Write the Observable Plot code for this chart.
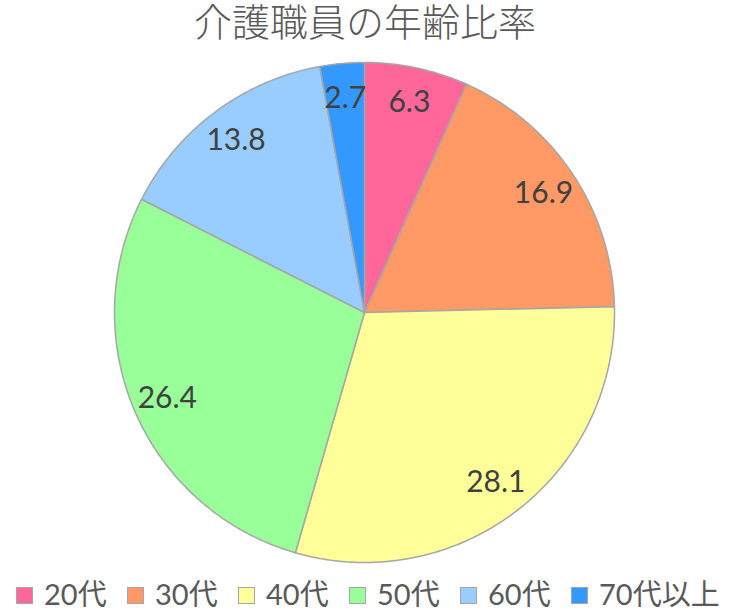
<!DOCTYPE html>
<html>
<head>
<meta charset="utf-8">
<script src="https://cdn.jsdelivr.net/npm/d3@7"></script>
<script src="https://cdn.jsdelivr.net/npm/@observablehq/plot@0.6"></script>
<style>
  body { margin: 0; background: #fff; width: 730px; height: 610px; overflow: hidden; position: relative; }
  #title { position: absolute; left: 0; top: 0; width: 730px; height: 50px; line-height: 40px; text-align: center; font-family: "Noto Sans CJK JP", sans-serif; font-weight: 300; font-size: 38px; color: #595959; white-space: nowrap; }
  #chart { position: absolute; left: 0; top: 50px; }
  #legend { position: absolute; left: 0; top: 579px; width: 730px; display: flex; height: 30px; line-height: 30px; align-items: center; padding-left: 16px; box-sizing: border-box; font-family: Lato, "Noto Sans CJK JP", sans-serif; font-size: 29px; color: #595959; white-space: nowrap; }
  .item { display: flex; align-items: center; width: 111px; flex: none; }
  .item:last-child { width: auto; }
  .sw { width: 15px; height: 15px; border: 1px solid #a6a6a6; margin-right: 11px; margin-top: 3px; flex: none; }
</style>
</head>
<body>
<div id="title">介護職員の年齢比率</div>
<div id="chart"></div>
<div id="legend"></div>
<script>
const categories = ["20代", "30代", "40代", "50代", "60代", "70代以上"];
const values = [6.3, 16.9, 28.1, 26.4, 13.8, 2.7];
const colors = ["#FF6699", "#FF9966", "#FFFF99", "#99FF99", "#99CCFF", "#3399FF"];

const data = categories.map((c, i) => ({ category: c, value: values[i] }));
const arcs = d3.pie().sort(null).value(d => d.value)(data);

const polys = [];
arcs.forEach(a => {
  const key = a.data.category;
  polys.push({ key, x: 0, y: 0 });
  const n = Math.max(2, Math.ceil((a.endAngle - a.startAngle) / 0.01));
  for (let k = 0; k <= n; k++) {
    const t = a.startAngle + (a.endAngle - a.startAngle) * k / n;
    polys.push({ key, x: Math.sin(t), y: Math.cos(t) });
  }
  polys.push({ key, x: 0, y: 0 });
});

const labels = arcs.map(a => {
  const m = (a.startAngle + a.endAngle) / 2;
  return { label: String(a.data.value), x: 0.86 * Math.sin(m), y: 0.86 * Math.cos(m) };
});

const chart = Plot.plot({
  width: 730,
  height: 530,
  marginLeft: 114,
  marginRight: 116,
  marginTop: 12,
  marginBottom: 18,
  x: { domain: [-1, 1], axis: null },
  y: { domain: [-1, 1], axis: null },
  color: { domain: categories, range: colors },
  marks: [
    Plot.line(polys, { x: "x", y: "y", z: "key", fill: "key", stroke: "#a6a6a6", strokeWidth: 1.5, strokeLinejoin: "round", curve: "linear" }),
    Plot.text(labels, { x: "x", y: "y", text: "label", fontSize: 30, fill: "#404040", fontFamily: "Lato, 'Noto Sans CJK JP', sans-serif" })
  ]
});
document.getElementById("chart").appendChild(chart);

const legend = document.getElementById("legend");
categories.forEach((c, i) => {
  const it = document.createElement("div");
  it.className = "item";
  const sw = document.createElement("div");
  sw.className = "sw";
  sw.style.background = colors[i];
  const tx = document.createElement("span");
  tx.textContent = c;
  it.appendChild(sw);
  it.appendChild(tx);
  legend.appendChild(it);
});
</script>
</body>
</html>
